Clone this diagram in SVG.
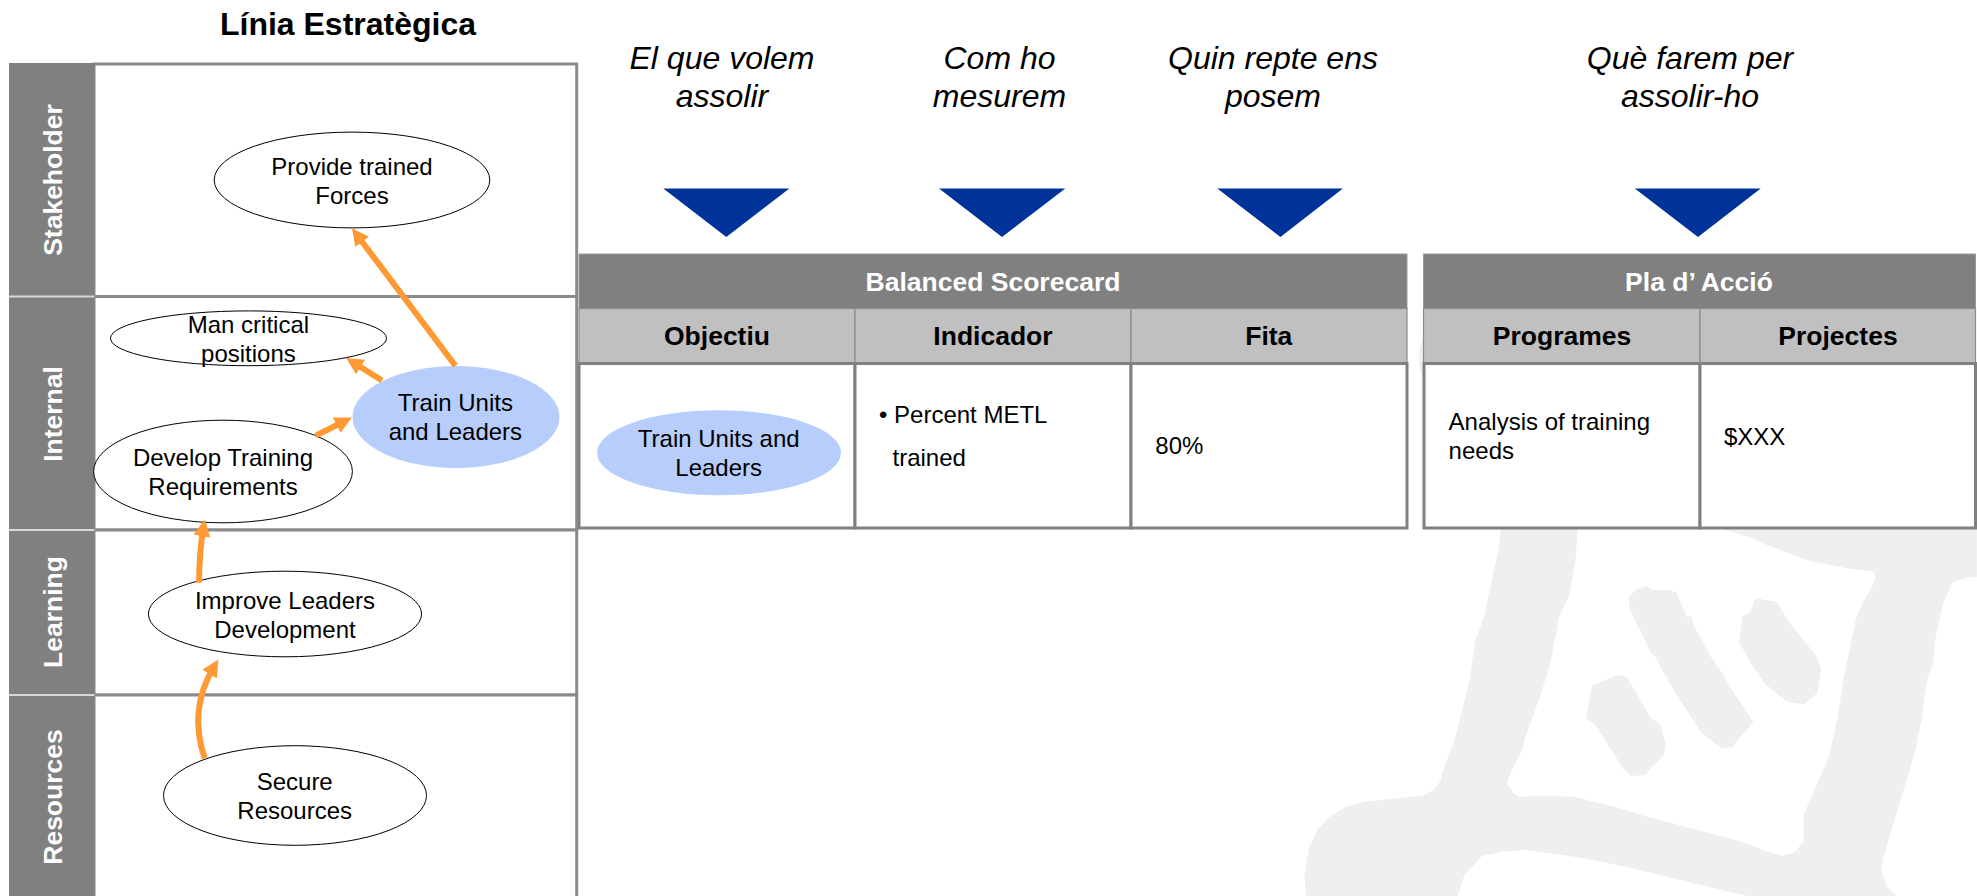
<svg xmlns="http://www.w3.org/2000/svg" width="1977" height="896" viewBox="0 0 1977 896">
<style>
text{font-family:"Liberation Sans",Arial,sans-serif;fill:#000}
.t{font-size:24px}
.m{text-anchor:middle}
.i{font-size:32px;font-style:italic;text-anchor:middle}
.h{font-size:26.5px;font-weight:bold;text-anchor:middle}
.w{fill:#fff}
.rl{font-size:26.5px;font-weight:bold;fill:#fff;text-anchor:middle}
.o{fill:#fff;stroke:#000;stroke-width:1}
.b{fill:#b7cdfb;stroke:none}
.tri{fill:#003399}
.wm{fill:#efefed}
.cell{fill:#fff;stroke:#808080;stroke-width:3}
.hd{fill:#808080;stroke:#999;stroke-width:1}
.sub{fill:#c0c0c0;stroke:#8c8c8c;stroke-width:1.2}
.lane{fill:#fff;stroke:#8a8a8a;stroke-width:3}
.col{fill:#808080}
.sep{stroke:#d8d8d8;stroke-width:2}
.a{fill:none;stroke:#ff9933;stroke-width:6;marker-end:url(#ah)}
</style>
<defs>
<marker id="ah" markerUnits="userSpaceOnUse" markerWidth="18" markerHeight="17" viewBox="0 0 18 17" refX="8" refY="8.5" orient="auto"><path d="M0 0L17 8.5L0 17z" fill="#ff9933"/></marker>
</defs>

<g id="watermark">
<g class="wm" transform="translate(1280,510) scale(.44444,.33333)">
<path d="M503 0L490 130L458 325L440 390L425 520L395 680L365 790L362 810L348 838L322 857L188 875L148 890L110 922L85 958L65 1015L55 1100L58 1158L400 1158L415 1095L455 1037L500 1025L555 1020L670 1042L770 1068L1050 1158L1388 1158L1365 1130L1353 1080L1358 1040L1430 720L1445 620L1450 560L1458 500L1470 462L1473 400L1480 350L1488 300L1495 270L1515 215L1545 203L1568 200L1568 0L1000 0L1000 60L1065 85L1095 105L1190 152L1230 163L1285 177L1336 185L1340 205L1330 235L1310 280L1295 330L1275 460L1265 530L1255 620L1235 740L1178 915L1178 993L1160 1025L1130 1037L1090 1022L1070 1010L1020 988L830 922L760 893L660 860L580 857L540 862L525 850L510 820L525 770L545 720L550 690L590 540L610 450L628 320L650 260L665 150L670 55L670 0Z"/>
<path d="M785 260L800 240L825 228L835 240L875 240L892 248L915 320L925 318L932 350L962 420L970 442L995 490L1005 515L1065 636L1030 690L1018 712L993 715L948 668L890 550L860 480L845 440L835 430L812 365L800 335L785 290Z"/>
<path d="M1070 265L1118 276L1145 335L1205 435L1218 475L1210 548L1178 583L1140 575L1090 520L1060 460L1033 397L1040 320L1058 305Z"/>
<path d="M702 527L760 495L780 500L833 622L855 642L868 700L863 737L820 795L790 798L772 775L708 642L690 628L692 600Z"/>
</g>
<path class="wm" d="M1424 335Q1414 358 1424 381Z"/>
</g>

<g id="title"><text x="348" y="34.5" font-size="32" font-weight="bold" text-anchor="middle">Línia Estratègica</text></g>

<g id="lanes">
<rect class="lane" x="94" y="64" width="482.7" height="232.5"/>
<rect class="lane" x="94" y="296.5" width="482.7" height="233.5"/>
<rect class="lane" x="94" y="530" width="482.7" height="165"/>
<rect class="lane" x="94" y="695" width="482.7" height="210"/>
<rect class="col" x="9" y="63" width="85.5" height="833"/>
<line class="sep" x1="9" y1="296.5" x2="94.5" y2="296.5"/>
<line class="sep" x1="9" y1="530" x2="94.5" y2="530"/>
<line class="sep" x1="9" y1="695" x2="94.5" y2="695"/>
<text class="rl" transform="translate(61.5,180) rotate(-90)">Stakeholder</text>
<text class="rl" transform="translate(61.5,414) rotate(-90)">Internal</text>
<text class="rl" transform="translate(61.5,612) rotate(-90)">Learning</text>
<text class="rl" transform="translate(61.5,797) rotate(-90)">Resources</text>
</g>

<g id="node-provide"><ellipse class="o" cx="352" cy="180" rx="137.8" ry="47.9"/><text class="t m" x="352" y="175">Provide trained</text><text class="t m" x="352" y="204">Forces</text></g>
<g id="node-man"><ellipse class="o" cx="248.5" cy="338.3" rx="138" ry="27.4"/><text class="t m" x="248.4" y="332.6">Man critical</text><text class="t m" x="248.4" y="361.6">positions</text></g>
<g id="node-train"><ellipse class="b" cx="456" cy="417" rx="103.5" ry="51"/><text class="t m" x="455.4" y="410.5">Train Units</text><text class="t m" x="455.4" y="440">and Leaders</text></g>
<g id="node-develop"><ellipse class="o" cx="223" cy="471.5" rx="129.4" ry="51.3"/><text class="t m" x="223" y="465.6">Develop Training</text><text class="t m" x="223" y="494.8">Requirements</text></g>
<g id="node-improve"><ellipse class="o" cx="285" cy="614" rx="136.6" ry="42.8"/><text class="t m" x="285" y="608.7">Improve Leaders</text><text class="t m" x="285" y="637.7">Development</text></g>
<g id="node-secure"><ellipse class="o" cx="295" cy="795.5" rx="131.5" ry="49.8"/><text class="t m" x="294.7" y="790">Secure</text><text class="t m" x="294.7" y="819">Resources</text></g>

<g id="connectors">
<path class="a" d="M455.4 365.7L357.4 235.5"/>
<path class="a" d="M382 380.5L353.8 362.8"/>
<path class="a" d="M315.7 435.6L343.9 421.5"/>
<path class="a" d="M199 582.7Q199.5 550 203.3 528.3"/>
<path class="a" d="M204.7 758.3C195 730 194 700 213.7 667.2"/>
</g>

<g id="prompts">
<text class="i" x="722" y="69">El que volem</text><text class="i" x="722" y="107">assolir</text>
<text class="i" x="999.5" y="69">Com ho</text><text class="i" x="999.5" y="107">mesurem</text>
<text class="i" x="1273" y="69">Quin repte ens</text><text class="i" x="1273" y="107">posem</text>
<text class="i" x="1690" y="69">Què farem per</text><text class="i" x="1690" y="107">assolir-ho</text>
<polygon class="tri" points="663.3,188.4 789.4,188.4 726.3,237"/>
<polygon class="tri" points="939,188.4 1065.3,188.4 1002,237"/>
<polygon class="tri" points="1217.3,188.4 1342.9,188.4 1280.4,237"/>
<polygon class="tri" points="1634.8,188.4 1760.7,188.4 1698,237"/>
</g>

<g id="balanced-scorecard">
<rect class="hd" x="579" y="254" width="828" height="54.5"/>
<rect class="sub" x="579" y="308.5" width="276" height="55"/>
<rect class="sub" x="855" y="308.5" width="276" height="55"/>
<rect class="sub" x="1131" y="308.5" width="276" height="55"/>
<rect class="cell" x="579" y="363.5" width="276" height="164.5"/>
<rect class="cell" x="855" y="363.5" width="276" height="164.5"/>
<rect class="cell" x="1131" y="363.5" width="276" height="164.5"/>
<text class="h w" x="993" y="291">Balanced Scorecard</text>
<text class="h" x="717" y="345.4">Objectiu</text>
<text class="h" x="993" y="345.4">Indicador</text>
<text class="h" x="1268.8" y="345.4">Fita</text>
<ellipse class="b" cx="719" cy="452.7" rx="122" ry="42.5"/>
<text class="t m" x="718.7" y="447">Train Units and</text>
<text class="t m" x="718.7" y="476">Leaders</text>
<text class="t" x="879" y="423">• Percent METL</text>
<text class="t" x="892.5" y="466">trained</text>
<text class="t" x="1155.3" y="454">80%</text>
</g>

<g id="pla-accio">
<rect class="hd" x="1423.5" y="254" width="552" height="54.5"/>
<rect class="sub" x="1423.5" y="308.5" width="276.5" height="55"/>
<rect class="sub" x="1700" y="308.5" width="275.5" height="55"/>
<rect class="cell" x="1424" y="363.5" width="276" height="164.5"/>
<rect class="cell" x="1700" y="363.5" width="275.5" height="164.5"/>
<text class="h w" x="1699" y="291">Pla d’ Acció</text>
<text class="h" x="1562" y="345.4">Programes</text>
<text class="h" x="1838" y="345.4">Projectes</text>
<text class="t" x="1448.6" y="430.4">Analysis of training</text>
<text class="t" x="1448.6" y="459.4">needs</text>
<text class="t" x="1724" y="445">$XXX</text>
</g>
</svg>
